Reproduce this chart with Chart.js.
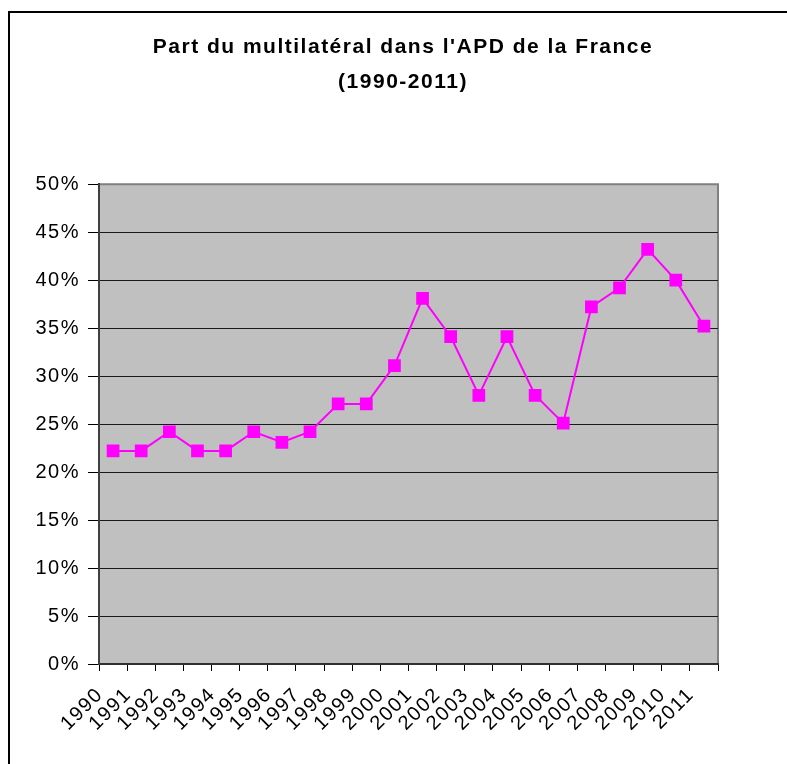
<!DOCTYPE html>
<html>
<head>
<meta charset="utf-8">
<script src="https://cdn.jsdelivr.net/npm/chart.js@4"></script>
<style>
  html, body { margin: 0; padding: 0; background: #fff; overflow: hidden; }
  #frame { position: absolute; left: 8px; top: 11px; width: 800px; height: 800px; border: 2px solid #000; }
  #wrap { position: absolute; left: 0; top: 0; width: 787px; height: 764px; }
</style>
</head>
<body>
<div id="frame"></div>
<div id="wrap"><canvas id="lineChart" width="787" height="764"></canvas></div>
<script>
const years = ['1990', '1991', '1992', '1993', '1994', '1995', '1996', '1997', '1998', '1999', '2000',
  '2001', '2002', '2003', '2004', '2005', '2006', '2007', '2008', '2009', '2010', '2011'];
const share = [22.2, 22.2, 24.2, 22.2, 22.2, 24.2, 23.1, 24.2, 27.1, 27.1, 31.1,
  38.1, 34.1, 28.0, 34.1, 28.0, 25.1, 37.2, 39.2, 43.2, 40.0, 35.2];
const titleLines = ["Part du multilatéral dans l'APD de la France", '(1990-2011)'];

// grey plot area + grey top/right border, like the Excel original
const plotArea = {
  id: 'plotArea',
  afterLayout(chart) {
    // centre the title over the plot rather than the whole canvas
    if (chart.titleBlock) {
      chart.titleBlock.left = chart.chartArea.left - 11;
      chart.titleBlock.right = chart.chartArea.right;
    }
  },
  beforeDraw(chart) {
    const { ctx, chartArea: a } = chart;
    ctx.letterSpacing = '1.5px';
    ctx.save();
    ctx.fillStyle = '#c0c0c0';
    ctx.fillRect(a.left, a.top, a.right - a.left, a.bottom - a.top);
    ctx.strokeStyle = '#808080';
    ctx.lineWidth = 2;
    ctx.beginPath();
    ctx.moveTo(a.left, a.top);
    ctx.lineTo(a.right, a.top);
    ctx.lineTo(a.right, a.bottom);
    ctx.stroke();
    ctx.restore();
  }
};

var ctxLine = document.getElementById('lineChart').getContext('2d');
var lineChart = new Chart(ctxLine, {
  type: 'line',
  data: {
    labels: years,
    datasets: [{
      label: 'Part du multilatéral',
      data: share,
      borderColor: '#ff00ff',
      backgroundColor: '#ff00ff',
      borderWidth: 2,
      pointStyle: 'rect',
      pointRadius: 9,
      pointBorderWidth: 0,
      tension: 0
    }]
  },
  options: {
    responsive: false,
    animation: false,
    layout: { padding: { left: 0, right: 69, top: 0, bottom: 0 } },
    plugins: {
      legend: { display: false },
      tooltip: { enabled: false },
      title: {
        display: true,
        text: titleLines,
        color: '#000',
        font: { family: 'Liberation Sans, Arial, sans-serif', size: 21, weight: 'bold', lineHeight: 1.67 },
        padding: { top: 30, bottom: 84 }
      }
    },
    scales: {
      x: {
        offset: true,
        grid: { offset: true, drawOnChartArea: false, tickLength: 7, tickColor: '#000' },
        border: { color: '#303030', width: 2 },
        ticks: {
          color: '#000',
          font: { family: 'Liberation Sans, Arial, sans-serif', size: 20 },
          minRotation: 45,
          maxRotation: 45,
          autoSkip: false,
          labelOffset: -13,
          padding: 12
        },
        afterFit(scale) { scale.height = 100; }
      },
      y: {
        min: 0,
        max: 50,
        grid: {
          color: ctx => ctx.tick && ctx.tick.value === 50 ? '#808080' : '#1a1a1a',
          tickColor: '#000',
          tickLength: 11,
          lineWidth: 1
        },
        border: { color: '#404040', width: 2 },
        ticks: {
          stepSize: 5,
          color: '#000',
          padding: 8,
          font: { family: 'Liberation Sans, Arial, sans-serif', size: 20 },
          callback: v => v + '%'
        },
        afterFit(scale) { scale.width = 99; }
      }
    }
  },
  plugins: [plotArea]
});
</script>
</body>
</html>
